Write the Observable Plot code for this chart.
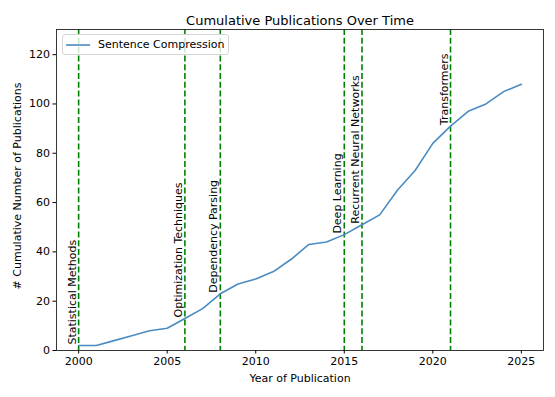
<!DOCTYPE html>
<html>
<head>
<meta charset="utf-8">
<script src="https://cdn.jsdelivr.net/npm/d3@7"></script>
<script src="https://cdn.jsdelivr.net/npm/@observablehq/plot@0.6"></script>
<style>
  html, body { margin: 0; padding: 0; background: #fff; }
  #wrap { position: relative; width: 555px; height: 397px; font-family: "DejaVu Sans", sans-serif; }
  #legend { position: absolute; left: 62px; top: 34px; height: 19px; padding: 0 4px 0 3px; border: 1px solid #d6d6d6; border-radius: 3px; background: rgba(255,255,255,0.8); display: flex; align-items: center; font-size: 11px; color: #000; }
  #legend svg { margin-right: 8px; }
</style>
</head>
<body>
<div id="wrap"></div>
<script>
const title = "Cumulative Publications Over Time";
const xLabel = "Year of Publication";
const yLabel = "# Cumulative Number of Publications";
const seriesName = "Sentence Compression";

const years = [2000, 2001, 2002, 2003, 2004, 2005, 2006, 2007, 2008, 2009, 2010, 2011, 2012,
               2013, 2014, 2015, 2016, 2017, 2018, 2019, 2020, 2021, 2022, 2023, 2024, 2025];
const counts = [2, 2, 4, 6, 8, 9, 13, 17, 23, 27, 29, 32, 37,
                43, 44, 47, 51, 55, 65, 73, 84, 91, 97, 100, 105, 108];

const eventYears = [2000, 2006, 2008, 2015, 2016, 2021];
const eventLabels = ["Statistical Methods", "Optimization Techniques", "Dependency Parsing",
                     "Deep Learning", "Recurrent Neural Networks", "Transformers"];

const xTicks = [2000, 2005, 2010, 2015, 2020, 2025];
const yTicks = [0, 20, 40, 60, 80, 100, 120];

const data = years.map((y, i) => ({year: y, count: counts[i]}));
const events = eventYears.map((y, i) => ({year: y, label: eventLabels[i], count: counts[years.indexOf(y)]}));

const lineColor = "#4a8bc2";
const font = "DejaVu Sans, sans-serif";

const chart = Plot.plot({
  width: 555,
  height: 397,
  marginLeft: 56,
  marginRight: 12,
  marginTop: 29,
  marginBottom: 47,
  style: {fontFamily: font, fontSize: "11px", color: "#000", background: "#fff"},
  x: {domain: [1998.75, 2026.25]},
  y: {domain: [0, 130.2]},
  marks: [
    Plot.ruleX(events, {x: "year", stroke: "#008000", strokeWidth: 1.6, strokeDasharray: "6,2.8"}),
    Plot.line(data, {x: "year", y: "count", stroke: lineColor, strokeWidth: 1.6}),
    Plot.text(events, {x: "year", y: "count", text: "label", rotate: -90, textAnchor: "start",
                       lineAnchor: "bottom", dx: -3, dy: -1, fontSize: 11, fill: "#000"}),
    Plot.frame({stroke: "#222", strokeWidth: 0.9}),
    Plot.axisX({ticks: xTicks, tickFormat: "d", tickSize: 3.5, tickPadding: 3, label: null, fontSize: 11}),
    Plot.axisY({ticks: yTicks, tickSize: 3.5, tickPadding: 3, label: null, fontSize: 11}),
    Plot.text([title], {frameAnchor: "top", lineAnchor: "middle", dy: -9, fontSize: 13, fill: "#000"}),
    Plot.text([xLabel], {frameAnchor: "bottom", lineAnchor: "middle", dy: 28, fontSize: 11, fill: "#000"}),
    Plot.text([yLabel], {frameAnchor: "left", textAnchor: "middle", dx: -39, dy: -4, rotate: -90, fontSize: 11, fill: "#000"})
  ]
});

const wrap = document.getElementById("wrap");
wrap.appendChild(chart);

const legend = document.createElement("div");
legend.id = "legend";
legend.innerHTML = `<svg width="24" height="4"><line x1="0" x2="24" y1="2" y2="2" stroke="${lineColor}" stroke-width="1.6"/></svg><span></span>`;
legend.querySelector("span").textContent = seriesName;
wrap.appendChild(legend);
</script>
</body>
</html>
